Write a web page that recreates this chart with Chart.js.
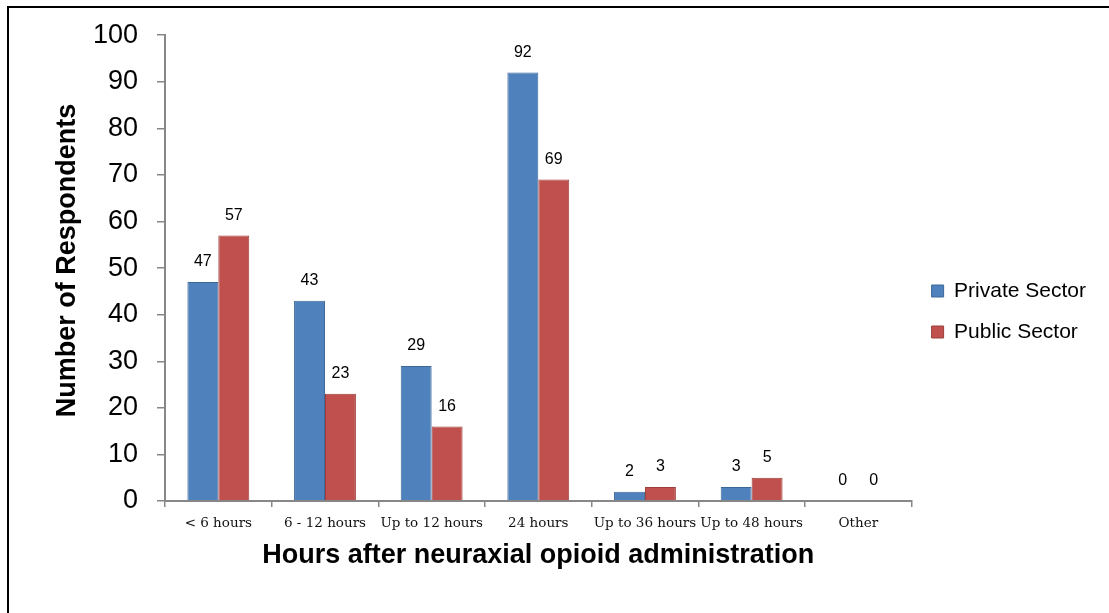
<!DOCTYPE html>
<html>
<head>
<meta charset="utf-8">
<script src="https://cdn.jsdelivr.net/npm/chart.js@4.4.1/dist/chart.umd.min.js"></script>
<style>
  html, body { margin: 0; padding: 0; background: #fff; }
  #wrap { width: 1109px; height: 613px; position: relative; }
</style>
</head>
<body>
<div id="wrap"><canvas id="hoursChart"></canvas></div>
<script>
const categories = ['< 6 hours', '6 - 12 hours', 'Up to 12 hours', '24 hours', 'Up to 36 hours', 'Up to 48 hours', 'Other'];
const privateSector = [47, 43, 29, 92, 2, 3, 0];
const publicSector = [57, 23, 16, 69, 3, 5, 0];
const yTicks = [0, 10, 20, 30, 40, 50, 60, 70, 80, 90, 100];

Chart.defaults.font.family = '"Liberation Sans", Arial, sans-serif';
Chart.defaults.color = '#000';

// numbers above each bar
const barValues = {
  id: 'barValues',
  afterDatasetsDraw(chart) {
    const ctx = chart.ctx;
    ctx.save();
    ctx.font = '16px "Liberation Sans", Arial, sans-serif';
    ctx.fillStyle = '#000';
    ctx.textAlign = 'center';
    ctx.textBaseline = 'middle';
    chart.data.datasets.forEach((ds, i) => {
      chart.getDatasetMeta(i).data.forEach((bar, j) => {
        ctx.fillText(ds.data[j], bar.x, bar.y - 20);
      });
    });
    ctx.restore();
  }
};

// frame line at top and left of the picture
const frame = {
  id: 'frame',
  afterDraw(chart) {
    const ctx = chart.ctx;
    ctx.save();
    ctx.strokeStyle = '#000';
    ctx.lineWidth = 2;
    ctx.beginPath();
    ctx.moveTo(8, chart.height);
    ctx.lineTo(8, 7);
    ctx.lineTo(chart.width, 7);
    ctx.stroke();
    ctx.restore();
  }
};

const hoursChart = document.getElementById('hoursChart').getContext('2d');

new Chart(hoursChart, {
  type: 'bar',
  data: {
    labels: categories,
    datasets: [
      {
        label: 'Private Sector',
        data: privateSector,
        backgroundColor: '#4f81bd',
        borderColor: '#3c6898',
        borderWidth: 1
      },
      {
        label: 'Public Sector',
        data: publicSector,
        backgroundColor: '#c0504d',
        borderColor: '#9c3e3b',
        borderWidth: 1
      }
    ]
  },
  options: {
    responsive: true,
    maintainAspectRatio: false,
    animation: false,
    datasets: {
      bar: { categoryPercentage: 0.58, barPercentage: 1 }
    },
    layout: {
      padding: { left: 40, right: 13, top: 33, bottom: 23 }
    },
    plugins: {
      legend: {
        position: 'right',
        labels: {
          boxWidth: 12,
          boxHeight: 12,
          padding: 20,
          font: { size: 21 },
          color: '#000'
        }
      },
      tooltip: { enabled: false }
    },
    scales: {
      y: {
        min: 0,
        max: 100,
        afterBuildTicks(scale) {
          scale.ticks = yTicks.map(v => ({ value: v }));
        },
        afterFit(scale) {
          scale.width = 125;
        },
        border: { color: '#878787', width: 2 },
        grid: {
          drawOnChartArea: false,
          tickLength: 8,
          tickColor: '#878787',
          lineWidth: 1.5
        },
        ticks: {
          padding: 19,
          font: { size: 27 },
          color: '#000'
        },
        title: {
          display: true,
          text: '  Number of Respondents',
          font: { size: 27, weight: 'bold' },
          padding: { top: 11, bottom: 0 },
          color: '#000'
        }
      },
      x: {
        afterFit(scale) {
          scale.height = 89;
        },
        border: { color: '#878787', width: 2 },
        grid: {
          offset: true,
          drawOnChartArea: false,
          tickLength: 6,
          tickColor: '#878787',
          lineWidth: 1.5
        },
        ticks: {
          padding: 8,
          maxRotation: 0,
          autoSkip: false,
          font: { family: '"DejaVu Serif", serif', size: 13.5 },
          color: '#111'
        },
        title: {
          display: true,
          text: 'Hours after neuraxial opioid administration',
          font: { size: 27, weight: 'bold' },
          padding: { top: 0, bottom: 18 },
          color: '#000'
        }
      }
    }
  },
  plugins: [barValues, frame]
});
</script>
</body>
</html>
